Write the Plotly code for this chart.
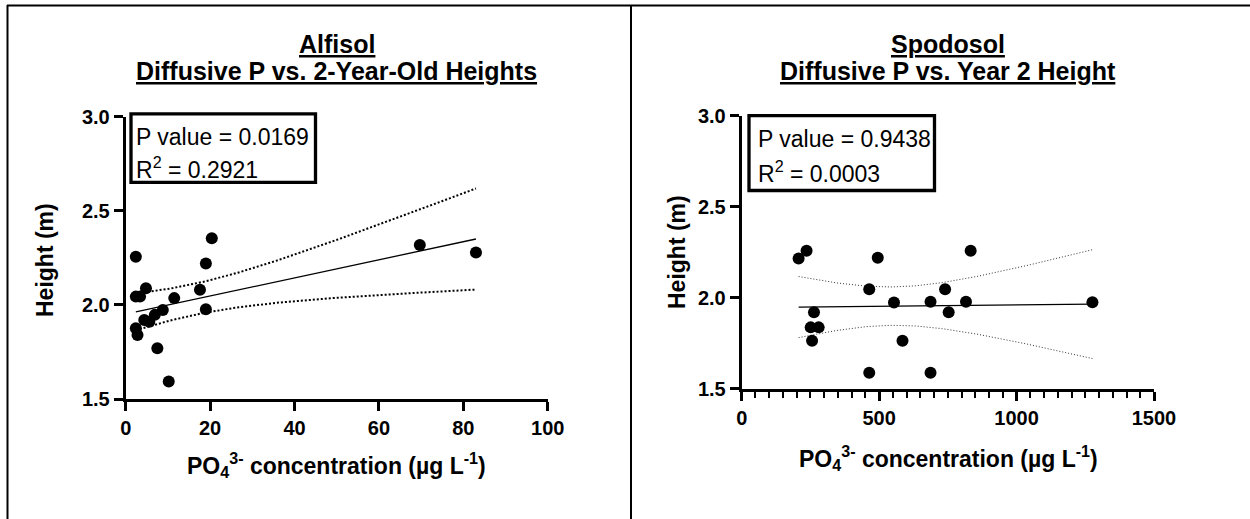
import numpy as np
import plotly.graph_objects as go

# Alfisol: diffusive phosphate (ug/L) vs. 2-year-old tree height (m)
alf_po4 = [2.4, 2.4, 3.4, 4.8, 2.4, 2.8, 4.4, 5.6, 6.9, 8.8, 11.5, 7.5, 10.2,
           17.6, 19.0, 19.0, 20.4, 69.7, 83.0]
alf_height = [2.256, 2.044, 2.044, 2.089, 1.876, 1.840, 1.920, 1.910, 1.947, 1.973,
              2.036, 1.770, 1.593, 2.080, 2.220, 1.977, 2.354, 2.318, 2.278]

# Spodosol: diffusive phosphate (ug/L) vs. year 2 height (m)
spo_po4 = [207, 236, 263, 251, 280, 256, 464, 464, 495, 554, 585, 687, 687,
           740, 753, 816, 833, 1276]
spo_height = [2.216, 2.258, 1.920, 1.837, 1.837, 1.764, 2.046, 1.588, 2.220, 1.973,
              1.764, 1.978, 1.588, 2.046, 1.920, 1.978, 2.258, 1.975]

alf_stats = ["P value = 0.0169", "R<sup>2</sup> = 0.2921"]
spo_stats = ["P value = 0.9438", "R<sup>2</sup> = 0.0003"]

# two-sided 95% Student t critical values by degrees of freedom
T975 = {16: 2.120, 17: 2.110}

W, H = 1250, 519
FONT = "Arial, Liberation Sans, sans-serif"


def fit_with_band(x, y, n_pts=120):
    x = np.asarray(x, float)
    y = np.asarray(y, float)
    n = len(x)
    slope, icpt = np.polyfit(x, y, 1)
    resid = y - (slope * x + icpt)
    s = np.sqrt(np.sum(resid ** 2) / (n - 2))
    sxx = np.sum((x - x.mean()) ** 2)
    xs = np.linspace(x.min(), x.max(), n_pts)
    ys = slope * xs + icpt
    half = T975[n - 2] * s * np.sqrt(1.0 / n + (xs - x.mean()) ** 2 / sxx)
    return xs, ys, ys - half, ys + half


def px(xp):
    return xp / W


def py(yp):
    return 1 - yp / H


fig = go.Figure()

panels = [
    dict(x=alf_po4, y=alf_height, xa="x", ya="y", dotw=2, dash="2px,2px", dotc="black"),
    dict(x=spo_po4, y=spo_height, xa="x2", ya="y2", dotw=1, dash="1px,2px", dotc="#333333"),
]
for p in panels:
    xs, ys, lo, hi = fit_with_band(p["x"], p["y"])
    for band in (lo, hi):
        fig.add_trace(go.Scatter(x=xs, y=band, mode="lines", xaxis=p["xa"], yaxis=p["ya"],
                                 line=dict(color=p["dotc"], width=p["dotw"], dash=p["dash"]),
                                 hoverinfo="skip", showlegend=False))
    fig.add_trace(go.Scatter(x=xs, y=ys, mode="lines", xaxis=p["xa"], yaxis=p["ya"],
                             line=dict(color="black", width=1.3),
                             hoverinfo="skip", showlegend=False))
    fig.add_trace(go.Scatter(x=p["x"], y=p["y"], mode="markers", xaxis=p["xa"], yaxis=p["ya"],
                             marker=dict(color="black", size=12, line=dict(width=0)),
                             showlegend=False))

tickfont = dict(family=FONT, size=20, color="black", weight="bold")
axis_common = dict(showline=True, linecolor="black", linewidth=3, ticks="outside",
                   tickwidth=3, ticklen=9, tickcolor="black", showgrid=False,
                   zeroline=False, tickfont=tickfont, fixedrange=True, automargin=False)

fig.update_layout(
    width=W, height=H, autosize=False,
    margin=dict(l=0, r=0, t=0, b=0, pad=0, autoexpand=False),
    paper_bgcolor="white", plot_bgcolor="white",
    xaxis=dict(domain=[px(125.7), px(547.7)], range=[0, 100], dtick=20,
               anchor="y", **axis_common),
    yaxis=dict(domain=[py(399), py(116.7)], range=[1.5, 3.0], dtick=0.5,
               tickformat=".1f", anchor="x", **axis_common),
    xaxis2=dict(domain=[px(741.7), px(1154)], range=[0, 1500], dtick=500,
                anchor="y2",
                minor=dict(dtick=50, ticks="outside", ticklen=6, tickwidth=2,
                           tickcolor="black", showgrid=False),
                **axis_common),
    yaxis2=dict(domain=[py(388.7), py(115.7)], range=[1.5, 3.0], dtick=0.5,
                tickformat=".1f", anchor="x2", **axis_common),
)

shapes = [
    # panel frame
    dict(type="line", xref="paper", yref="paper", x0=px(7), x1=1, y0=py(5.5), y1=py(5.5),
         line=dict(color="black", width=2)),
    dict(type="line", xref="paper", yref="paper", x0=px(7.5), x1=px(7.5), y0=0, y1=py(5),
         line=dict(color="black", width=2)),
    dict(type="line", xref="paper", yref="paper", x0=px(631), x1=px(631), y0=0, y1=py(5),
         line=dict(color="black", width=2)),
    # statistics boxes
    dict(type="rect", xref="paper", yref="paper", x0=px(131), x1=px(315.5),
         y0=py(182.3), y1=py(113.8), line=dict(color="black", width=3.3)),
    dict(type="rect", xref="paper", yref="paper", x0=px(749), x1=px(934.5),
         y0=py(190.5), y1=py(115.7), line=dict(color="black", width=3.3)),
]

ann = []


def text(x, y, s, size, bold=False, angle=0, xanchor="center"):
    ann.append(dict(x=px(x), y=py(y), xref="paper", yref="paper", text=s, showarrow=False,
                    xanchor=xanchor, yanchor="middle", textangle=angle,
                    font=dict(family=FONT, size=size, color="black",
                              weight="bold" if bold else "normal")))


# panel titles
text(336.7, 44, "<u>Alfisol</u>", 25, bold=True)
text(336.7, 71, "<u>Diffusive P vs. 2-Year-Old Heights</u>", 25, bold=True)
text(948, 44, "<u>Spodosol</u>", 25, bold=True)
text(948, 71, "<u>Diffusive P vs. Year 2 Height</u>", 25, bold=True)

# axis titles
xtitle = "PO<sub>4</sub><sup>3-</sup> concentration (µg L<sup>-1</sup>)"
text(336.7, 465, xtitle, 23, bold=True)
text(948, 458, xtitle, 23, bold=True)
text(45, 260, "Height (m)", 23, bold=True, angle=-90)
text(677, 252, "Height (m)", 23, bold=True, angle=-90)

# statistics text
text(134, 137, alf_stats[0], 23, xanchor="left")
text(134, 168, alf_stats[1], 23, xanchor="left")
text(756, 139, spo_stats[0], 23, xanchor="left")
text(756, 172, spo_stats[1], 23, xanchor="left")

fig.update_layout(shapes=shapes, annotations=ann)
fig.write_html("out.html")
